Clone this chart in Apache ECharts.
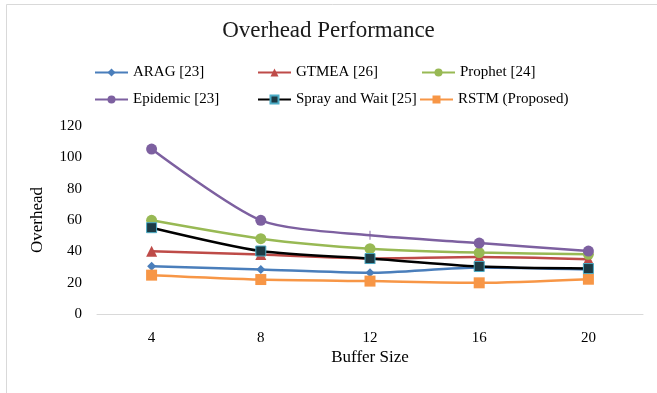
<!DOCTYPE html>
<html>
<head>
<meta charset="utf-8">
<script src="https://cdn.jsdelivr.net/npm/echarts@6/dist/echarts.min.js"></script>
<style>html,body{margin:0;padding:0;background:#fff;}#c{width:657px;height:393px;}</style>
</head>
<body>
<div id="c"></div>
<script>
const categories = ['4', '8', '12', '16', '20'];
const yTicks = { min: 0, max: 120, interval: 20 };
const arag = [30.5, 28.4, 26.3, 29.7, 28.4];
const gtmea = [40, 38, 35.5, 36.4, 35];
const prophet = [59.8, 48.1, 41.7, 39.2, 38.1];
const epidemic = [105.3, 59.8, 50.2, 45.3, 40.2];
const spray = [55.1, 40.2, 35.4, 30.3, 29];
const rstm = [24.8, 22, 21, 19.9, 22.2];
const names = ['ARAG [23]', 'GTMEA [26]', 'Prophet [24]', 'Epidemic [23]', 'Spray and Wait [25]', 'RSTM (Proposed)'];

const serif = 'Liberation Serif';
const chart = echarts.init(document.getElementById('c'));

const legendPos = [
  [94, 70], [257, 70], [421, 70],
  [94, 97], [257, 97], [419, 97]
];
const legends = names.map((n, i) => ({
  data: [n],
  left: legendPos[i][0],
  top: legendPos[i][1] - 5,
  padding: 0,
  itemWidth: 33,
  itemHeight: 10,
  textStyle: { fontFamily: serif, fontSize: 15, color: '#000' }
}));

const epiData = epidemic.map((v, i) => i === 2 ? {
  value: v,
  symbol: 'path://M4.5,0H5.5V4.5H10V5.5H5.5V10H4.5V5.5H0V4.5H4.5Z',
  symbolSize: 9
} : v);

function line(name, data, color, symbol, size, extra) {
  return Object.assign({
    name: name,
    type: 'line',
    data: data,
    smooth: 0.25,
    symbol: symbol,
    symbolSize: size,
    lineStyle: { color: color, width: 2.5 },
    itemStyle: { color: color },
    z: 2
  }, extra || {});
}

chart.setOption({
  animation: false,
  backgroundColor: '#fff',
  graphic: [{
    type: 'rect',
    shape: { x: 6.5, y: 4.5, width: 700, height: 500 },
    style: { fill: 'none', stroke: '#d9d9d9', lineWidth: 1 },
    silent: true
  }],
  title: {
    text: 'Overhead Performance',
    left: 'center',
    top: 19,
    padding: 0,
    textStyle: { fontFamily: serif, fontSize: 23, fontWeight: 'normal', color: '#1a1a1a' }
  },
  legend: legends,
  grid: { left: 97, right: 14, top: 126, bottom: 79 },
  xAxis: {
    type: 'category',
    data: categories,
    boundaryGap: true,
    name: 'Buffer Size',
    nameLocation: 'middle',
    nameGap: 35,
    nameTextStyle: { fontFamily: serif, fontSize: 17, color: '#000' },
    axisLine: { lineStyle: { color: '#d9d9d9', width: 1 } },
    axisTick: { show: false },
    axisLabel: { fontFamily: serif, fontSize: 15, color: '#000', margin: 17 }
  },
  yAxis: {
    type: 'value',
    min: yTicks.min,
    max: yTicks.max,
    interval: yTicks.interval,
    name: 'Overhead',
    nameLocation: 'middle',
    nameRotate: 90,
    nameGap: 51,
    nameTextStyle: { fontFamily: serif, fontSize: 17, color: '#000' },
    axisLine: { show: false },
    axisTick: { show: false },
    splitLine: { show: false },
    axisLabel: { fontFamily: serif, fontSize: 15, color: '#000', margin: 15 }
  },
  series: [
    line(names[0], arag, '#4a7ebb', 'diamond', 9),
    line(names[1], gtmea, '#be4b48', 'triangle', 11),
    line(names[2], prophet, '#98b954', 'circle', 11),
    line(names[3], epiData, '#7d60a0', 'circle', 11),
    line(names[4], spray, '#000000', 'rect', 10, {
      itemStyle: { color: '#1d3b45', borderColor: '#4bacc6', borderWidth: 1 },
      z: 3
    }),
    line(names[5], rstm, '#f79646', 'rect', 11)
  ]
});
</script>
</body>
</html>
